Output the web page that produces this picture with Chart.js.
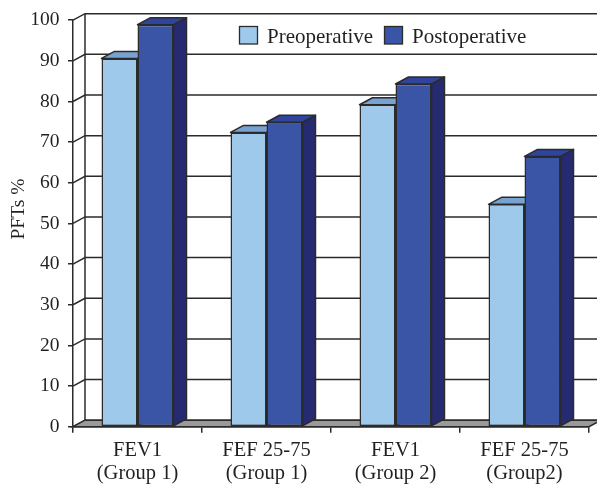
<!DOCTYPE html>
<html>
<head>
<meta charset="utf-8">
<script src="https://cdn.jsdelivr.net/npm/chart.js@4.4.1/dist/chart.umd.min.js"></script>
<style>
  html, body { margin: 0; padding: 0; background: #ffffff; }
  #wrap { width: 597px; height: 489px; }
</style>
</head>
<body>
<div id="wrap"><canvas id="pfts" width="597" height="489"></canvas></div>
<script>
// Categories (two-line labels) and series values, PFTs %
const categories = [
  ['FEV1', '(Group 1)'],
  ['FEF 25-75', '(Group 1)'],
  ['FEV1', '(Group 2)'],
  ['FEF 25-75', '(Group2)']
];
const preoperative = [90.6, 72.4, 79.2, 54.7];
const postoperative = [98.9, 74.9, 84.3, 66.5];
const seriesNames = ['Preoperative', 'Postoperative'];
const yTicks = [0, 10, 20, 30, 40, 50, 60, 70, 80, 90, 100];
const yTitle = 'PFTs %';

const FONT = '"Liberation Serif", "Times New Roman", serif';
const INK = '#231f20';
const LINE = '#2b2b2b';

// Colours per series: front, top, side
const faces = [
  { front: '#9fc9eb', top: '#78a2cf', side: '#5f86b4' },
  { front: '#3a55a5', top: '#2e449d', side: '#262a70' }
];

// Wall depth and bar depth offsets
const WALL_DX = 12, WALL_DY = -6.5;
const BAR_DX = 13, BAR_DY = -7;

const depthPlugin = {
  id: 'depth3d',
  beforeDatasetsDraw(chart) {
    const { ctx, chartArea, scales } = chart;
    const x = scales.x, y = scales.y;
    const L = chartArea.left, R = chartArea.right;
    const B = y.getPixelForValue(0);
    const Ttop = y.getPixelForValue(100);
    ctx.save();
    ctx.lineWidth = 1.5;
    ctx.strokeStyle = LINE;
    ctx.lineCap = 'butt';

    // back wall and side wall grid
    yTicks.forEach(v => {
      const yy = y.getPixelForValue(v);
      ctx.beginPath();
      ctx.moveTo(L, yy);
      ctx.lineTo(L + WALL_DX, yy + WALL_DY);
      ctx.lineTo(R + WALL_DX + 20, yy + WALL_DY);
      ctx.stroke();
    });
    ctx.beginPath();
    ctx.moveTo(L + WALL_DX, Ttop + WALL_DY);
    ctx.lineTo(L + WALL_DX, B + WALL_DY);
    ctx.stroke();

    // floor
    ctx.beginPath();
    ctx.moveTo(L, B);
    ctx.lineTo(R, B);
    ctx.lineTo(R + WALL_DX, B + WALL_DY);
    ctx.lineTo(L + WALL_DX, B + WALL_DY);
    ctx.closePath();
    ctx.fillStyle = '#9a9a9a';
    ctx.fill();
    ctx.stroke();

    // top and side faces of bars
    ctx.lineJoin = 'round';
    chart.data.datasets.forEach((ds, di) => {
      const meta = chart.getDatasetMeta(di);
      const f = faces[di];
      meta.data.forEach(bar => {
        const p = bar.getProps(['x', 'y', 'base', 'width'], true);
        const x0 = p.x - p.width / 2, x1 = p.x + p.width / 2;
        const top = p.y, base = p.base;
        // side face
        ctx.beginPath();
        ctx.moveTo(x1, top);
        ctx.lineTo(x1 + BAR_DX, top + BAR_DY);
        ctx.lineTo(x1 + BAR_DX, base + BAR_DY);
        ctx.lineTo(x1, base);
        ctx.closePath();
        ctx.fillStyle = f.side;
        ctx.fill();
        ctx.stroke();
        // top face
        ctx.beginPath();
        ctx.moveTo(x0, top);
        ctx.lineTo(x0 + BAR_DX, top + BAR_DY);
        ctx.lineTo(x1 + BAR_DX, top + BAR_DY);
        ctx.lineTo(x1, top);
        ctx.closePath();
        ctx.fillStyle = f.top;
        ctx.fill();
        ctx.stroke();
      });
    });
    ctx.restore();
  },
  afterDraw(chart) {
    const { ctx } = chart;
    ctx.save();
    // axis title
    ctx.fillStyle = INK;
    ctx.font = '19.5px ' + FONT;
    ctx.translate(23.5, 209);
    ctx.rotate(-Math.PI / 2);
    ctx.textAlign = 'center';
    ctx.textBaseline = 'alphabetic';
    ctx.fillText(yTitle, 0, 0);
    ctx.restore();

    // legend
    ctx.save();
    ctx.font = '21px ' + FONT;
    ctx.textBaseline = 'alphabetic';
    ctx.textAlign = 'left';
    const items = [
      { box: 239.5, text: 267 },
      { box: 384.5, text: 412 }
    ];
    items.forEach((it, i) => {
      ctx.fillStyle = faces[i].front;
      ctx.fillRect(it.box, 26.5, 18, 17.5);
      ctx.lineWidth = 1.3;
      ctx.strokeStyle = LINE;
      ctx.strokeRect(it.box, 26.5, 18, 17.5);
      ctx.fillStyle = INK;
      ctx.fillText(seriesNames[i], it.text, 42.7);
    });
    ctx.restore();
  }
};

new Chart(document.getElementById('pfts'), {
  type: 'bar',
  data: {
    labels: categories,
    datasets: [
      {
        label: seriesNames[0],
        data: preoperative,
        backgroundColor: faces[0].front,
        borderColor: LINE,
        borderWidth: 1.5,
        borderSkipped: false
      },
      {
        label: seriesNames[1],
        data: postoperative,
        backgroundColor: faces[1].front,
        borderColor: LINE,
        borderWidth: 1.5,
        borderSkipped: false
      }
    ]
  },
  options: {
    responsive: false,
    animation: false,
    devicePixelRatio: 1,
    layout: { padding: { top: 18.7, right: 8, left: 0, bottom: 0 } },
    datasets: {
      bar: { categoryPercentage: 0.558, barPercentage: 1.0 }
    },
    plugins: {
      legend: { display: false },
      tooltip: { enabled: false },
      title: { display: false }
    },
    scales: {
      x: {
        offset: true,
        grid: {
          offset: true,
          drawOnChartArea: false,
          drawTicks: true,
          tickLength: 6,
          color: LINE,
          lineWidth: 1.5
        },
        border: { display: true, color: LINE, width: 1.5 },
        ticks: {
          color: INK,
          font: { family: FONT, size: 20.5, lineHeight: 1.09 },
          padding: 7,
          maxRotation: 0,
          autoSkip: false
        },
        afterFit(scale) { scale.height = 62.3; }
      },
      y: {
        min: 0,
        max: 100,
        afterBuildTicks(scale) { scale.ticks = yTicks.map(v => ({ value: v })); },
        grid: {
          drawOnChartArea: false,
          drawTicks: true,
          tickLength: 5,
          color: LINE,
          lineWidth: 1.5
        },
        border: { display: true, color: LINE, width: 1.5 },
        ticks: {
          color: INK,
          font: { family: FONT, size: 19.5 },
          padding: 8.5
        },
        afterFit(scale) { scale.width = 73; }
      }
    }
  },
  plugins: [depthPlugin]
});
</script>
</body>
</html>
